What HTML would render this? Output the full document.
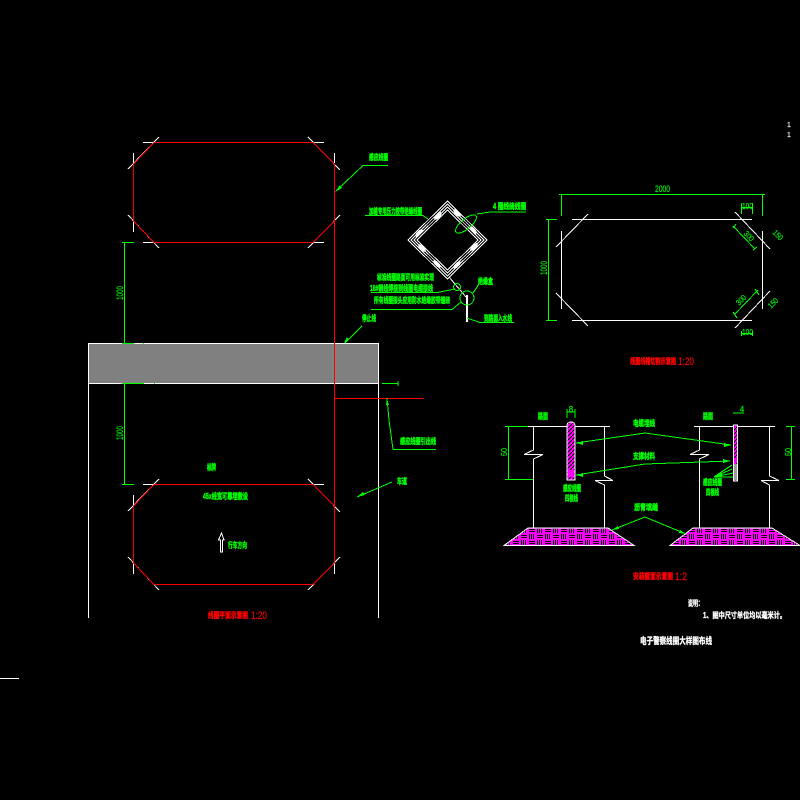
<!DOCTYPE html>
<html><head><meta charset="utf-8"><style>
html,body{margin:0;padding:0;background:#000;width:800px;height:800px;overflow:hidden}
svg{display:block}
text{font-family:"Liberation Sans","Noto Sans CJK SC",sans-serif;font-size:8px;font-weight:bold}
.g{fill:#0f0;stroke:#0f0;stroke-width:.45}
.r{fill:#f00;stroke:#f00;stroke-width:.4}
.w{fill:#fff;stroke:#fff;stroke-width:.35}
.n{font-weight:normal;stroke-width:.15}
</style></head><body>
<svg width="800" height="800" viewBox="0 0 800 800" xmlns="http://www.w3.org/2000/svg" shape-rendering="crispEdges">
<defs>
<pattern id="weave" width="16" height="12" patternUnits="userSpaceOnUse" x="504" y="528">
<rect width="16" height="12" fill="#f0f"/>
<path d="M1.500 0V5M3.500 0V5M5.500 0V5M9 1.500H15M9 3.500H15M1 7.500H7M1 9.500H7M9.500 6V11M11.500 6V11M13.500 6V11" stroke="#000" stroke-width="1" fill="none"/>
</pattern>
<pattern id="hatch" width="4" height="4" patternUnits="userSpaceOnUse">
<rect width="4" height="4" fill="#f0f"/><path d="M0 4L4 0" stroke="#000" stroke-width="1"/>
</pattern>
</defs>
<rect width="800" height="800" fill="#000"/>

<!-- road -->
<rect x="88.500" y="343.500" width="290" height="40" fill="#808080"/>
<g stroke="#fff" fill="none">
<path d="M88.500 618V343.500H378.500V618M88.500 383.500H378.500"/>
<path d="M143 142.500H154M313 142.500H324M143 242.500H154M313 242.500H324M143 484.500H154M313 484.500H324"/>
<path d="M133.500 153V163M133.500 221V232M334.500 153V163M334.500 221V232M133.500 495V505M133.500 563V574M334.500 563V574"/>
<path d="M159 137L128 169M308 137L340 170M128 215L159 248M340 215L308 248"/>
<path d="M159 479L128 511M308 479L340 512M128 557L159 590M340 557L308 590"/>
</g>
<!-- red loops -->
<g stroke="#f00" fill="none">
<path d="M154 142.500H313L334.500 164M334.500 221L313 242.500H154L133.500 221V164L154 142.500"/>
<path d="M154 484.500H313L334.500 506M334.500 563L313 584.500H154L133.500 563V506L154 484.500"/>
<path d="M334.500 164V563M334.500 398.500H424"/>
</g>
<!-- left dims and leaders -->
<g stroke="#0f0" fill="none">
<path d="M124.500 242V343M124.500 383V484"/>
<path d="M122 242.500H134M122 343.500H134M122 383.500H144M122 484.500H134M143 343.500H144M154 383.500H155"/>
<path d="M388 165.500H363L336 191"/>
<path d="M362 326L345 343"/>
<path d="M387 398L389 420L393 449.500H436"/>
<path d="M392 482L357 497"/>
<path d="M382 383.500H398M398 381V386"/>
</g>
<path d="M335 192L340 185L342 188Z M344 343L347 337L349 340Z M357 497L363 492L365 495Z M387 399L389 405L386 405Z" fill="#0f0"/>
<path d="M220.500 552V540H218.500L221.500 533L224 540H222.500V552Z" fill="none" stroke="#fff"/>
<text class="g n" transform="translate(123,293) rotate(-90)" text-anchor="middle" textLength="14" lengthAdjust="spacingAndGlyphs" style="font-size:9px">1000</text>
<text class="g n" transform="translate(123,433) rotate(-90)" text-anchor="middle" textLength="14" lengthAdjust="spacingAndGlyphs" style="font-size:9px">1000</text>
<text class="g" x="369" y="160" textLength="19" lengthAdjust="spacingAndGlyphs">感应线圈</text>
<text class="g" x="362" y="321" textLength="14" lengthAdjust="spacingAndGlyphs">停止线</text>
<text class="g" x="400" y="444" textLength="36" lengthAdjust="spacingAndGlyphs">感应线圈引出线</text>
<text class="g" x="397" y="484" textLength="10" lengthAdjust="spacingAndGlyphs">车道</text>
<text class="g" x="207" y="470" textLength="9" lengthAdjust="spacingAndGlyphs">标牌</text>
<text class="g" x="203" y="499" textLength="45" lengthAdjust="spacingAndGlyphs">45x线宽可靠埋敷设</text>
<text class="g" x="228" y="548" textLength="19" lengthAdjust="spacingAndGlyphs">行车方向</text>
<text class="r" x="208" y="618" textLength="40" lengthAdjust="spacingAndGlyphs">线圈平面示意图</text>
<text class="r n" x="251" y="619" textLength="16" lengthAdjust="spacingAndGlyphs" style="font-size:11px">1:20</text>

<!-- diamond -->
<g stroke="#fff" fill="none">
<path d="M447.500 201L487 240L447.500 279L408 240Z"/>
<path d="M447.500 204L484 240L447.500 276L411 240Z"/>
<path d="M447.500 207L481 240L447.500 273L414 240Z"/>
<path d="M447.500 210L478 240L447.500 270L417 240Z"/>
<path d="M449 277L466 297"/>
</g>
<g fill="#fff">
<ellipse cx="438" cy="216" rx="5" ry="2" transform="rotate(-45 438 216)"/>
<ellipse cx="457" cy="213" rx="5" ry="2" transform="rotate(45 457 213)"/>
<ellipse cx="473" cy="230" rx="5" ry="2" transform="rotate(45 473 230)"/>
<ellipse cx="419" cy="233" rx="5" ry="2" transform="rotate(-45 419 233)"/>
<ellipse cx="474" cy="247" rx="5" ry="2" transform="rotate(-45 474 247)"/>
<ellipse cx="422" cy="248" rx="5" ry="2" transform="rotate(45 422 248)"/>
<ellipse cx="437" cy="264" rx="5" ry="2" transform="rotate(45 437 264)"/>
<ellipse cx="457" cy="265" rx="5" ry="2" transform="rotate(-45 457 265)"/>
<rect x="466" y="295" width="2" height="27"/>
</g>
<g stroke="#0f0" fill="none">
<ellipse cx="466" cy="224" rx="13" ry="5" transform="rotate(-40 466 224)"/>
<circle cx="457" cy="287" r="3.500"/><circle cx="467" cy="298" r="7"/>
<path d="M477 214L490 212H526"/>
<path d="M365 215.500H423L428 219"/>
<path d="M371 292.500H437L455 289"/>
<path d="M371 309.500H452L461 302"/>
<path d="M479 284L473 293"/>
<path d="M467 318L480 322.500H514"/>
</g>
<text class="g" x="369" y="214" textLength="53" lengthAdjust="spacingAndGlyphs">加缠专用压力胶带绝缘线圈</text>
<text class="g" x="493" y="209" textLength="33" lengthAdjust="spacingAndGlyphs">4 圈线绕线圈</text>
<text class="g" x="377" y="280" textLength="57" lengthAdjust="spacingAndGlyphs">标准线圈路面可用标准实现</text>
<text class="g" x="370" y="291" textLength="63" lengthAdjust="spacingAndGlyphs">18#铜线焊接到线圈电缆接线</text>
<text class="g" x="374" y="303" textLength="76" lengthAdjust="spacingAndGlyphs">所有线圈接头应用防水绝缘胶带缠绕</text>
<text class="g" x="478" y="284" textLength="15" lengthAdjust="spacingAndGlyphs">绝缘盒</text>
<text class="g" x="484" y="321" textLength="28" lengthAdjust="spacingAndGlyphs">到路面入水线</text>

<!-- right plan -->
<g stroke="#fff" fill="none">
<path d="M572 219.500H752M572 320.500H752M561.500 231V309M762.500 231V309"/>
<path d="M588 214L556 247M556 293L588 326M735 212L770 249M770 291L735 328"/>
</g>
<g stroke="#0f0" fill="none">
<path d="M561.500 216V194.500H762.500V216M559 194.500H564M760 194.500H765M548.500 219V321M546 219.500H557M546 320.500H557"/>
<path d="M741.500 207.500H752.500M741.500 203V214M752.500 203V214M741.500 331V336M752.500 331V336M741.500 333.500H752.500"/>
<path d="M733 226L755 249M733 228L736 224M753 250L757 247"/>
<path d="M734 315L758 290M733 312L737 318M755 289L759 295"/>
</g>
<text class="g n" x="655" y="192" textLength="15" lengthAdjust="spacingAndGlyphs" style="font-size:9px">2000</text>
<text class="g n" transform="translate(547,275) rotate(-90)" textLength="14" lengthAdjust="spacingAndGlyphs" style="font-size:9px">1000</text>
<text class="g n" x="742" y="209" textLength="11" lengthAdjust="spacingAndGlyphs" style="font-size:8px">100</text>
<text class="g n" x="742" y="335" textLength="11" lengthAdjust="spacingAndGlyphs" style="font-size:8px">100</text>
<text class="g n" transform="translate(747,238) rotate(45)" text-anchor="middle" textLength="11" lengthAdjust="spacingAndGlyphs" style="font-size:8px">300</text>
<text class="g n" transform="translate(776,237) rotate(45)" text-anchor="middle" textLength="11" lengthAdjust="spacingAndGlyphs" style="font-size:8px">150</text>
<text class="g n" transform="translate(743,302) rotate(-45)" text-anchor="middle" textLength="11" lengthAdjust="spacingAndGlyphs" style="font-size:8px">300</text>
<text class="g n" transform="translate(775,305) rotate(-45)" text-anchor="middle" textLength="11" lengthAdjust="spacingAndGlyphs" style="font-size:8px">150</text>
<text class="r" x="630" y="364" textLength="46" lengthAdjust="spacingAndGlyphs">线圈线槽切割示意图</text>
<text class="r n" x="678" y="365" textLength="16" lengthAdjust="spacingAndGlyphs" style="font-size:11px">1:20</text>

<!-- section details -->
<g stroke="#fff" fill="none">
<path d="M528 426.500H567M575 426.500H610M694 426.500H733M738 426.500H775"/>
<path d="M533.500 426V450L524 454.500H543L533.500 459V528M604.500 426V476L613 480.500H595L604.500 485V528"/>
<path d="M699.500 426V450L690 454.500H709L699.500 459V528M769.500 426V476L779 480.500H761L769.500 485V528"/>
</g>
<path d="M567 426Q567 422 571 422Q575 422 575 426V480H567Z" fill="url(#hatch)" stroke="#fff"/>
<rect x="568" y="470" width="6" height="7" fill="#f0f"/>
<rect x="733.500" y="425" width="4" height="56" fill="url(#hatch)" stroke="#fff"/>
<rect x="734" y="458" width="3" height="5" fill="#f0f"/>
<rect x="734" y="464" width="3" height="16" fill="#999"/>
<path d="M504 545.500L528 528H608L634 545.500Z" fill="url(#weave)" stroke="#fff"/>
<path d="M670 545.500L693 528H772L800 545.500Z" fill="url(#weave)" stroke="#fff"/>
<g stroke="#0f0" fill="none">
<path d="M508.500 426V479M505 426.500H528M505 479.500H533M791.500 426V479M786 426.500H795M786 479.500H795"/>
<path d="M576 443L645 433L731 445"/>
<path d="M576 475L645 464L730 461"/>
<path d="M612 530L645 517L686 534"/>
<path d="M714 477L732 465M714 477L732 469M714 477L733 473M714 477H733"/>
<path d="M567 412H575M567 409V418M575 409V418M733 413H744"/>
</g>
<path d="M576 443L583 441V445Z M731 445L724 443V447Z M576 475L583 473V477Z M730 461L723 459V463Z M612 530L618 526L619 529Z M686 534L680 530L679 533Z M714 477L722 473V477Z" fill="#0f0"/>
<text class="g" x="538" y="419" textLength="10" lengthAdjust="spacingAndGlyphs">路面</text>
<text class="g" x="703" y="419" textLength="10" lengthAdjust="spacingAndGlyphs">路面</text>
<text class="g n" x="571" y="412" text-anchor="middle" style="font-size:8px">8</text>
<text class="g n" x="742" y="412" text-anchor="middle" style="font-size:8px">4</text>
<text class="g" x="633" y="426" textLength="22" lengthAdjust="spacingAndGlyphs">电缆埋线</text>
<text class="g" x="633" y="459" textLength="22" lengthAdjust="spacingAndGlyphs">支撑材料</text>
<text class="g" x="634" y="510" textLength="24" lengthAdjust="spacingAndGlyphs">沥青填缝</text>
<text class="g" x="563" y="491" textLength="18" lengthAdjust="spacingAndGlyphs">感应线圈</text>
<text class="g" x="565" y="501" textLength="13" lengthAdjust="spacingAndGlyphs">四根线</text>
<text class="g" x="703" y="485" textLength="19" lengthAdjust="spacingAndGlyphs">感应线圈</text>
<text class="g" x="706" y="495" textLength="13" lengthAdjust="spacingAndGlyphs">四根线</text>
<text class="g n" transform="translate(507,452) rotate(-90)" text-anchor="middle" textLength="8" lengthAdjust="spacingAndGlyphs" style="font-size:8px">50</text>
<text class="g n" transform="translate(791,452) rotate(-90)" text-anchor="middle" textLength="8" lengthAdjust="spacingAndGlyphs" style="font-size:8px">50</text>
<text class="r" x="633" y="579" textLength="40" lengthAdjust="spacingAndGlyphs">安装截面示意图</text>
<text class="r n" x="675" y="580" textLength="12" lengthAdjust="spacingAndGlyphs" style="font-size:11px">1:2</text>
<text class="w" x="688" y="606" textLength="15" lengthAdjust="spacingAndGlyphs">说明：</text>
<text class="w" x="703" y="618" textLength="83" lengthAdjust="spacingAndGlyphs">1、图中尺寸单位均以毫米计。</text>
<text class="w" x="640" y="644" textLength="72" lengthAdjust="spacingAndGlyphs" style="font-size:9px">电子警察线圈大样图布线</text>

<text class="w n" x="789" y="127" text-anchor="middle" style="font-size:7px">1</text>
<text class="w n" x="789" y="137" text-anchor="middle" style="font-size:7px">1</text>
<rect x="0" y="678" width="19" height="1" fill="#fff"/>
</svg>
</body></html>
